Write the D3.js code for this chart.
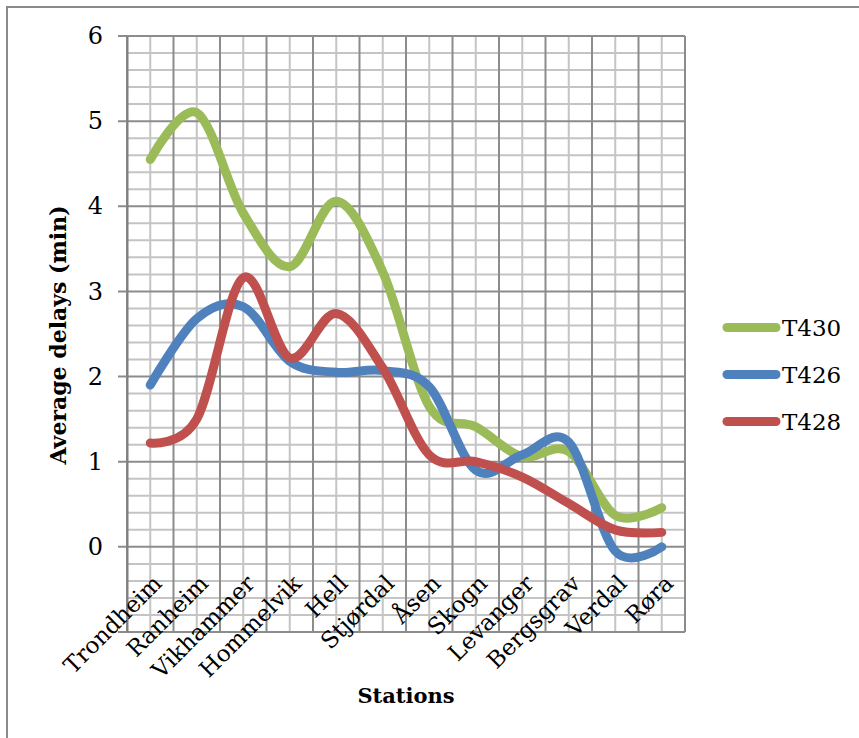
<!DOCTYPE html>
<html>
<head>
<meta charset="utf-8">
<script src="https://cdn.jsdelivr.net/npm/d3@7"></script>
<style>
  html, body { margin: 0; padding: 0; background: #fff; }
  svg { display: block; }
  text { font-family: "DejaVu Serif", serif; fill: #000; }
</style>
</head>
<body>
<svg id="chart" width="859" height="738"></svg>
<script>
// Stations along the line, in order
const stations = ["Trondheim", "Ranheim", "Vikhammer", "Hommelvik", "Hell", "Stjørdal",
                  "Åsen", "Skogn", "Levanger", "Bergsgrav", "Verdal", "Røra"];

// Average delay (minutes) per station for each train
const t430 = [4.55, 5.1, 3.92, 3.29, 4.06, 3.23, 1.65, 1.41, 1.06, 1.12, 0.37, 0.46];
const t426 = [1.9, 2.68, 2.82, 2.18, 2.05, 2.07, 1.88, 0.9, 1.08, 1.23, -0.05, 0.0];
const t428 = [1.22, 1.5, 3.16, 2.22, 2.74, 2.1, 1.08, 1.0, 0.82, 0.51, 0.2, 0.17];

const seriesNames = ["T430", "T426", "T428"];
const seriesColors = ["#9BBB59", "#4F81BD", "#C0504D"];
const seriesValues = [t430, t426, t428];

const yTicks = [0, 1, 2, 3, 4, 5, 6];

const svg = d3.select("#chart");

// outer chart frame
svg.append("rect")
  .attr("x", 7).attr("y", 7)
  .attr("width", 900).attr("height", 800)
  .attr("fill", "none")
  .attr("stroke", "#8a8a8a")
  .attr("stroke-width", 2);

const plot = { left: 127, right: 685, top: 36, bottom: 632 };

const x = d3.scaleBand()
  .domain(stations)
  .range([plot.left, plot.right])
  .paddingInner(0).paddingOuter(0);

const y = d3.scaleLinear()
  .domain([-1, 6])
  .range([plot.bottom, plot.top]);

const cx = s => x(s) + x.bandwidth() / 2;

const grid = svg.append("g");

// minor horizontal grid (every 0.2)
const minorY = d3.range(-1, 6.0001, 0.2).filter(v => Math.abs(v - Math.round(v)) > 1e-6);
grid.selectAll(".hmin").data(minorY).join("line")
  .attr("x1", plot.left).attr("x2", plot.right)
  .attr("y1", d => y(d)).attr("y2", d => y(d))
  .attr("stroke", "#c4c4c4").attr("stroke-width", 2);

// minor vertical grid at category centres
grid.selectAll(".vmin").data(stations).join("line")
  .attr("x1", d => cx(d)).attr("x2", d => cx(d))
  .attr("y1", plot.top).attr("y2", plot.bottom)
  .attr("stroke", "#c4c4c4").attr("stroke-width", 2);

// major vertical grid at category boundaries
const bounds = stations.map(s => x(s)).concat([plot.right]);
grid.selectAll(".vmaj").data(bounds).join("line")
  .attr("x1", d => d).attr("x2", d => d)
  .attr("y1", plot.top).attr("y2", plot.bottom)
  .attr("stroke", "#8c8c8c").attr("stroke-width", 2);

// major horizontal grid, with tick marks reaching left of the axis
const majorY = d3.range(-1, 7);
grid.selectAll(".hmaj").data(majorY).join("line")
  .attr("x1", plot.left - 9).attr("x2", plot.right)
  .attr("y1", d => y(d)).attr("y2", d => y(d))
  .attr("stroke", "#8c8c8c").attr("stroke-width", 2);

// value axis
const yAxis = d3.axisLeft(y).tickValues(yTicks).tickSize(0).tickPadding(24).tickFormat(d3.format("d"));
const yg = svg.append("g").attr("transform", `translate(${plot.left},0)`).call(yAxis);
yg.select(".domain").attr("stroke", "#808080").attr("stroke-width", 2);
yg.selectAll("text").style("font-family", "DejaVu Serif").style("font-size", "24px").attr("fill", "#000");

// category axis labels, rotated
const xg = svg.append("g");
xg.selectAll("text").data(stations).join("text")
  .attr("transform", d => `translate(${cx(d) + 13},${y(0) + 38}) rotate(-45)`)
  .attr("text-anchor", "end")
  .style("font-size", "23px")
  .text(d => d);

// smoothed lines
const line = d3.line()
  .x((d, i) => cx(stations[i]))
  .y(d => y(d))
  .curve(d3.curveCardinal.tension(0));

const lines = svg.append("g");
seriesNames.forEach((name, k) => {
  lines.append("path")
    .datum(seriesValues[k])
    .attr("d", line)
    .attr("fill", "none")
    .attr("stroke", seriesColors[k])
    .attr("stroke-width", 9)
    .attr("stroke-linecap", "round")
    .attr("stroke-linejoin", "round");
});

// axis titles
svg.append("text")
  .attr("x", 406).attr("y", 703)
  .attr("text-anchor", "middle")
  .style("font-size", "21px").style("font-weight", "bold")
  .text("Stations");

svg.append("text")
  .attr("transform", `translate(66,${(plot.top + plot.bottom) / 2 + 1}) rotate(-90)`)
  .attr("text-anchor", "middle")
  .style("font-size", "22px").style("font-weight", "bold")
  .text("Average delays (min)");

// legend
const legend = svg.append("g");
seriesNames.forEach((name, k) => {
  const ly = 327.5 + k * 47;
  legend.append("line")
    .attr("x1", 727).attr("x2", 776)
    .attr("y1", ly).attr("y2", ly)
    .attr("stroke", seriesColors[k])
    .attr("stroke-width", 9)
    .attr("stroke-linecap", "round");
  legend.append("text")
    .attr("x", 782).attr("y", ly + 8)
    .style("font-size", "23px")
    .text(name);
});
</script>
</body>
</html>
